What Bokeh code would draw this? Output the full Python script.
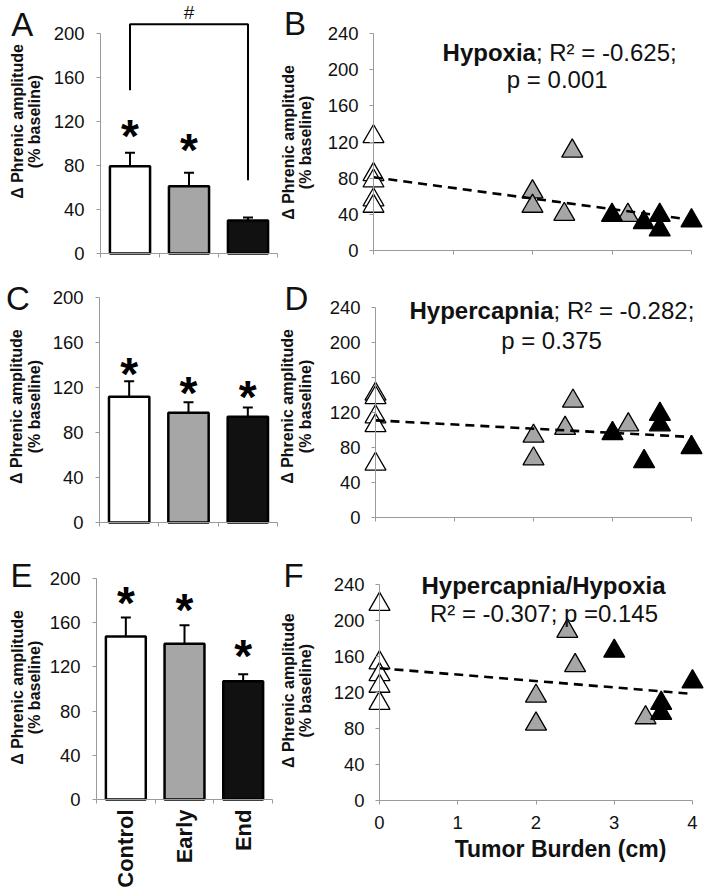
from bokeh.plotting import figure
from bokeh.models import Range1d, FixedTicker, Label, Whisker, TeeHead, ColumnDataSource
from bokeh.layouts import column, row
from bokeh.embed import file_html
from bokeh.resources import INLINE
from bokeh.core.properties import value

FONT = "Liberation Sans"
INK = "#111111"
AXIS = "#9a9a9a"
GRAY = "#a6a6a6"

# ---------------- data ----------------
categories = ["Control", "Early", "End"]
bar_fill = ["#ffffff", GRAY, "#111111"]
bar_ticks = [0, 40, 80, 120, 160, 200]
scatter_ticks = [0, 40, 80, 120, 160, 200, 240]
burden_ticks = [0, 1, 2, 3, 4]

# group means / SEM (% baseline)
hypoxia_mean = [79.4, 61.2, 30.0]
hypoxia_sem = [12.3, 12.1, 2.7]
hypoxia_star = [115.2, 102.7, None]

hypercapnia_mean = [111.7, 97.5, 93.9]
hypercapnia_sem = [13.9, 9.5, 8.3]
hypercapnia_star = [140.4, 123.3, 120.0]

hh_mean = [147.6, 141.0, 107.0]
hh_sem = [17.2, 16.6, 6.3]
hh_star = [186.4, 180.0, 137.8]

# significance bracket (Control vs End) in panel A
bracket_y = [148.5, 208.5, 208.5, 66.7]

# individual animals vs tumor burden (cm)
control_x = [0, 0, 0, 0, 0]
early_x = [2.0, 2.0, 2.5, 2.4, 3.2]
end_x = [3.0, 3.4, 3.6, 3.6, 4.0]
trend_x = [0, 4]

hypoxia_control = [126, 84, 77, 56, 49]
hypoxia_early = [65, 49, 110, 40, 39]
hypoxia_end = [39, 31, 39, 23, 33]
hypoxia_trend = [81, 34]

hypercapnia_control = [141, 137, 115, 105, 61]
hypercapnia_early = [93, 67, 133, 102, 106]
hypercapnia_end = [96, 64, 118, 106, 80]
hypercapnia_trend = [111, 92]

hh_control = [218, 153, 140, 127, 108]
hh_early_x = [2.0, 2.0, 2.4, 2.5, 3.4]
hh_early = [116, 85, 188, 150, 92]
hh_end_x = [3.0, 3.6, 3.6, 4.0]
hh_end = [166, 108, 97, 132]
hh_trend = [147, 118.5]

YLAB1 = "\u0394 Phrenic amplitude"
YLAB2 = "(% baseline)"


# ---------------- helpers ----------------
def panel(box, origin, scale):
    """box = page area of the figure; origin = where (0,0) falls; scale = px per unit."""
    x0, y0, x1, y1 = box
    ox, oy = origin
    sx, sy = scale
    p = figure(width=x1 - x0, height=y1 - y0,
               x_range=Range1d((x0 - ox) / sx, (x1 - ox) / sx),
               y_range=Range1d((oy - y1) / sy, (oy - y0) / sy),
               min_border_left=0, min_border_right=0, min_border_top=0, min_border_bottom=0,
               title=None, output_backend="svg", toolbar_location=None, tools="")
    p.grid.visible = False
    p.outline_line_color = None
    p.background_fill_color = "white"
    p.border_fill_color = "white"
    for ax in (p.xaxis[0], p.yaxis[0]):
        ax.fixed_location = 0
        ax.axis_line_color = AXIS
        ax.axis_line_width = 1
        ax.major_tick_line_color = AXIS
        ax.minor_tick_line_color = AXIS
        ax.major_tick_in = 0
        ax.major_tick_out = 4
        ax.minor_tick_in = 0
        ax.minor_tick_out = 0
        ax.major_label_text_font = FONT
        ax.major_label_text_font_size = "18.5px"
        ax.major_label_text_color = INK
        ax.major_label_standoff = 11
    return p


def lab(p, x, y, text, size, bold=False, align="center", baseline="middle", angle=0.0):
    p.add_layout(Label(x=x, y=y, text=text, text_font=FONT, text_font_size=f"{size}px",
                       text_font_style="bold" if bold else "normal", text_color=INK,
                       text_align=align, text_baseline=baseline, angle=angle))


def ylabels(p, x1, x2, y):
    lab(p, x1, y, YLAB1, 16, bold=True, angle=1.5708)
    lab(p, x2, y, YLAB2, 16, bold=True, angle=1.5708)


def bar_panel(mean, sem, stars, box, origin, scale, show_labels):
    p = panel(box, origin, scale)
    xs = [i + 0.5 for i in range(len(categories))]
    p.yaxis.ticker = FixedTicker(ticks=bar_ticks)
    p.yaxis.bounds = (0, 200)
    p.yaxis.major_label_standoff = 12
    ax = p.xaxis[0]
    ax.bounds = (0, 3)
    ax.ticker = FixedTicker(ticks=xs, minor_ticks=[0, 1, 2, 3])
    ax.major_tick_out = 0
    ax.minor_tick_out = 4
    if show_labels:
        ax.major_label_overrides = {x: c for x, c in zip(xs, categories)}
        ax.major_label_orientation = 1.5708
        ax.major_label_text_font_style = "bold"
        ax.major_label_text_font_size = "22px"
        ax.major_label_standoff = 6
    else:
        ax.major_label_overrides = {x: "" for x in xs}
    src = ColumnDataSource(dict(x=xs, top=mean, fill=bar_fill,
                                upper=[m + s for m, s in zip(mean, sem)],
                                lower=[m - s for m, s in zip(mean, sem)]))
    p.vbar(x="x", top="top", width=0.68, source=src, fill_color="fill",
           line_color="black", line_width=2.5)
    p.add_layout(Whisker(source=src, base="x", upper="upper", lower="lower",
                         line_color="black", line_width=2,
                         upper_head=TeeHead(size=10, line_width=2, line_color="black"),
                         lower_head=TeeHead(size=10, line_width=2, line_color="black")))
    sx = [x for x, s in zip(xs, stars) if s is not None]
    sy = [s for s in stars if s is not None]
    p.text(x=sx, y=sy, text=["*"] * len(sx), text_font=value(FONT), text_font_style="bold",
           text_font_size="46px", text_align="center", text_baseline="alphabetic",
           y_offset=9, text_color="black")
    return p, xs


def scatter_panel(groups, trend, box, origin, scale, show_x):
    p = panel(box, origin, scale)
    p.yaxis.ticker = FixedTicker(ticks=scatter_ticks)
    p.yaxis.bounds = (0, 240)
    p.xaxis.ticker = FixedTicker(ticks=burden_ticks)
    p.xaxis.bounds = (0, 4)
    if not show_x:
        p.xaxis.major_label_overrides = {t: "" for t in burden_ticks}
    for xs, ys, fill in groups:
        p.scatter(xs, ys, marker="triangle", size=21, fill_color=fill,
                  line_color="black", line_width=1.3)
    p.line(trend_x, trend, line_color="black", line_width=2.6, line_dash="9 6")
    return p


# ---------------- panel A ----------------
pA, xsA = bar_panel(hypoxia_mean, hypoxia_sem, hypoxia_star,
                    (0, 0, 278, 278), (100, 253), (59, 1.1), False)
pA.line([xsA[0], xsA[0], xsA[2], xsA[2]], bracket_y, line_color="black", line_width=2)
lab(pA, 1.5, 219.1, "#", 19)
lab(pA, -1.327, 208.6, "A", 33)
ylabels(pA, -1.415, -1.119, 120)

# ---------------- panel B ----------------
pB = scatter_panel([(control_x, hypoxia_control, "white"),
                    (early_x, hypoxia_early, GRAY),
                    (end_x, hypoxia_end, "black")],
                   hypoxia_trend, (278, 0, 709, 278), (373, 250), (79.5, 0.904), False)
lab(pB, -0.987, 250.6, "B", 33)
ylabels(pB, -1.075, -0.855, 119.5)
lab(pB, 2.043, 219, "Hypoxia", 24, bold=True, align="right")
lab(pB, 2.043, 219, "; R\u00b2 = -0.625;", 24, align="left")
lab(pB, 2.311, 189, "p = 0.001", 24)

# ---------------- panel C ----------------
pC, _ = bar_panel(hypercapnia_mean, hypercapnia_sem, hypercapnia_star,
                  (0, 278, 278, 555), (99, 522), (59.33, 1.125), False)
lab(pC, -1.374, 198.8, "C", 33)
ylabels(pC, -1.391, -1.096, 103)

# ---------------- panel D ----------------
pD = scatter_panel([(control_x, hypercapnia_control, "white"),
                    (early_x, hypercapnia_early, GRAY),
                    (end_x, hypercapnia_end, "black")],
                   hypercapnia_trend, (278, 278, 709, 555), (375, 517), (79, 0.875), False)
lab(pD, -1.0, 249.9, "D", 33)
ylabels(pD, -1.108, -0.886, 126.9)
lab(pD, 2.254, 236.6, "Hypercapnia", 24, bold=True, align="right")
lab(pD, 2.254, 236.6, "; R\u00b2 = -0.282;", 24, align="left")
lab(pD, 2.228, 202.3, "p = 0.375", 24)

# ---------------- panel E ----------------
pE, _ = bar_panel(hh_mean, hh_sem, hh_star,
                  (0, 555, 278, 889), (96, 799), (58.67, 1.105), True)
lab(pE, -1.278, 202.7, "E", 33)
ylabels(pE, -1.355, -1.057, 101.4)

# ---------------- panel F ----------------
pF = scatter_panel([(control_x, hh_control, "white"),
                    (hh_early_x, hh_early, GRAY),
                    (hh_end_x, hh_end, "black")],
                   hh_trend, (278, 555, 709, 889), (379, 800), (78.25, 0.9), True)
lab(pF, -1.099, 250, "F", 33)
ylabels(pF, -1.169, -0.946, 122)
lab(pF, 2.096, 238.9, "Hypercapnia/Hypoxia", 24, bold=True)
lab(pF, 2.102, 207.3, "R\u00b2 = -0.307; p =0.145", 24)
lab(pF, 2.313, -53.8, "Tumor Burden (cm)", 23, bold=True)

layout = column(row(pA, pB), row(pC, pD), row(pE, pF))
open("out.html", "w").write(file_html(layout, INLINE))
